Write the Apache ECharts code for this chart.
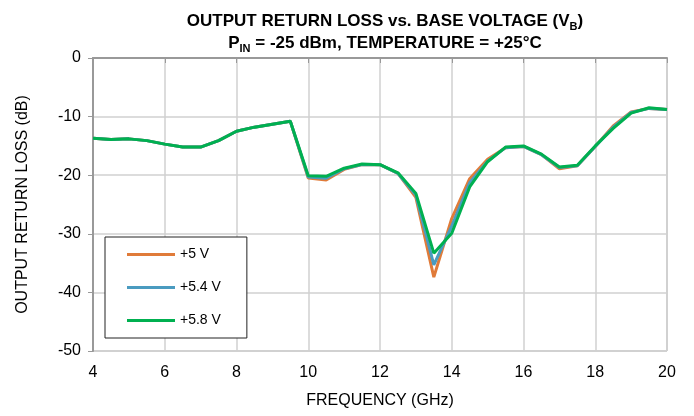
<!DOCTYPE html>
<html>
<head>
<meta charset="utf-8">
<script src="https://cdn.jsdelivr.net/npm/echarts@6/dist/echarts.min.js"></script>
<style>
  html, body { margin: 0; padding: 0; background: #fff; }
  #chart { width: 694px; height: 416px; }
</style>
</head>
<body>
<div id="chart"></div>
<script>
var freq = [4, 4.5, 5, 5.5, 6, 6.5, 7, 7.5, 8, 8.5, 9, 9.5, 10, 10.5, 11, 11.5, 12, 12.5, 13, 13.5, 14, 14.5, 15, 15.5, 16, 16.5, 17, 17.5, 18, 18.5, 19, 19.5, 20];
var v50 = [-13.7, -13.9, -13.8, -14.1, -14.7, -15.2, -15.2, -14.1, -12.5, -11.8, -11.3, -10.8, -20.5, -20.8, -19.0, -18.2, -18.2, -19.7, -23.8, -37.4, -27.4, -20.6, -17.3, -15.3, -15.1, -16.5, -18.9, -18.4, -15.1, -11.6, -9.2, -8.6, -8.8];
var v54 = [-13.7, -13.9, -13.8, -14.1, -14.7, -15.2, -15.2, -14.1, -12.5, -11.8, -11.3, -10.8, -20.3, -20.5, -18.9, -18.2, -18.2, -19.7, -23.4, -35.3, -28.7, -21.3, -17.6, -15.3, -15.1, -16.5, -18.7, -18.4, -15.1, -11.8, -9.3, -8.6, -8.8];
var v58 = [-13.7, -13.9, -13.8, -14.1, -14.7, -15.2, -15.2, -14.1, -12.5, -11.8, -11.3, -10.8, -20.1, -20.2, -18.8, -18.1, -18.2, -19.6, -23.1, -33.3, -29.9, -22.0, -17.7, -15.2, -15.0, -16.4, -18.6, -18.3, -15.0, -12.0, -9.4, -8.5, -8.8];
var seriesNames = ['+5 V', '+5.4 V', '+5.8 V'];
var seriesColors = ['#E07B39', '#4A9BC0', '#00B050'];

function pairs(vals) {
    return freq.map(function (f, i) { return [f, vals[i]]; });
}

var chart = echarts.init(document.getElementById('chart'));
var font = 'Liberation Sans, Arial, sans-serif';
var option = {
    animation: false,
    textStyle: { fontFamily: font },
    title: {
        left: 380,
        textAlign: 'center',
        top: 5,
        text: '{a|OUTPUT RETURN LOSS vs. BASE VOLTAGE (V}{s|B}{a|)}\n{a|P}{s|IN}{a| = -25 dBm, TEMPERATURE = +25°C}',
        textStyle: {
            rich: {
                a: { fontSize: 17, fontWeight: 'bold', color: '#000', fontFamily: font, lineHeight: 22 },
                s: { fontSize: 11, fontWeight: 'bold', color: '#000', fontFamily: font, verticalAlign: 'bottom', lineHeight: 22, padding: [8, 0, 0, 0] }
            }
        }
    },
    legend: {
        orient: 'vertical',
        left: 105,
        top: 237,
        padding: [9, 26, 9, 22],
        icon: 'rect',
        itemWidth: 48,
        itemHeight: 3,
        itemGap: 16,
        backgroundColor: '#fff',
        borderColor: '#222',
        borderWidth: 1,
        textStyle: { fontSize: 14, color: '#000', fontFamily: font, lineHeight: 17 },
        data: seriesNames
    },
    grid: { left: 93, right: 27, top: 58, bottom: 65, show: true, borderColor: '#aaa', borderWidth: 1 },
    xAxis: {
        type: 'value',
        min: 4, max: 20, interval: 2,
        name: 'FREQUENCY (GHz)',
        nameLocation: 'middle',
        nameGap: 42,
        nameTextStyle: { fontSize: 16, color: '#000', fontFamily: font },
        axisLine: { lineStyle: { color: '#999', width: 2 } },
        axisTick: { show: true, lineStyle: { color: '#999' } },
        axisLabel: { fontSize: 16, color: '#000', margin: 14 },
        splitLine: { show: true, lineStyle: { color: '#d0d0d0', width: 1.5 } }
    },
    yAxis: {
        type: 'value',
        min: -50, max: 0, interval: 10,
        name: 'OUTPUT RETURN LOSS (dB)',
        nameLocation: 'middle',
        nameGap: 62,
        nameTextStyle: { fontSize: 16, color: '#000', fontFamily: font },
        axisLine: { show: true, lineStyle: { color: '#999', width: 2 } },
        axisTick: { show: true, lineStyle: { color: '#999' } },
        axisLabel: { fontSize: 16, color: '#000', margin: 12 },
        splitLine: { show: true, lineStyle: { color: '#d0d0d0', width: 1.5 } }
    },
    series: [v50, v54, v58].map(function (vals, i) {
        return {
            name: seriesNames[i],
            type: 'line',
            data: pairs(vals),
            symbol: 'none',
            color: seriesColors[i],
            lineStyle: { width: 3, color: seriesColors[i] },
            z: 2 + i
        };
    })
};
chart.setOption(option);

window.onresize = chart.resize;
</script>
</body>
</html>
